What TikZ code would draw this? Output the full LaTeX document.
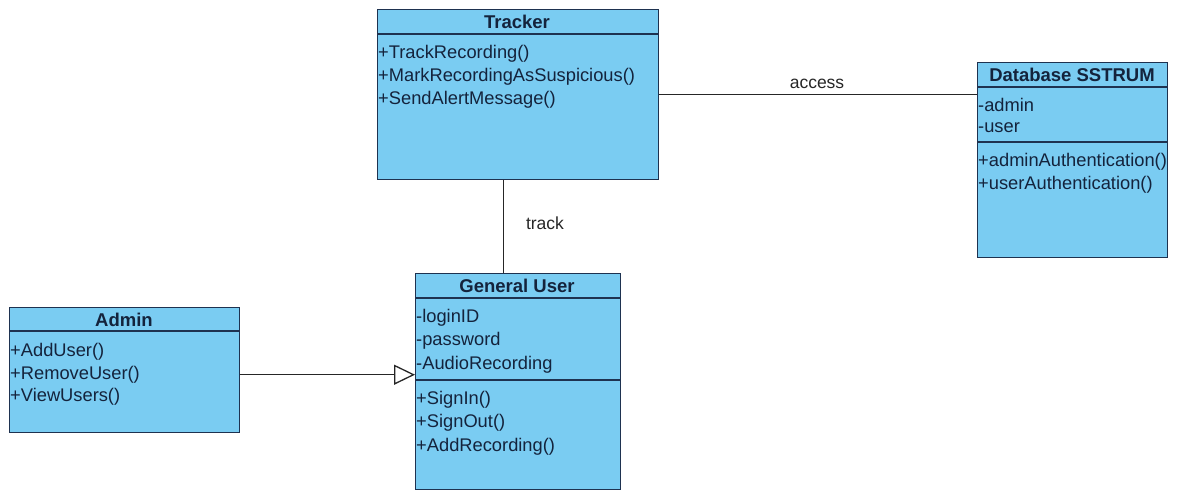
\documentclass[tikz,border=0pt]{standalone}
\usepackage{fontspec}
\setmainfont{Liberation Sans}
\usetikzlibrary{arrows.meta}
\definecolor{classfill}{RGB}{122,204,242}
\definecolor{classline}{RGB}{30,50,80}
\definecolor{classtext}{RGB}{20,35,60}
\tikzset{
  classbox/.style={draw=classline, fill=classfill, line width=1.4pt, rectangle, inner sep=0pt, anchor=north west},
  member/.style={anchor=west, inner sep=1pt, text=classtext, font=\fontsize{18.3}{22}\selectfont},
  header/.style={inner sep=0pt, text=classtext, font=\fontsize{18.5}{22}\selectfont\bfseries},
  sep/.style={draw=classline, line width=1.4pt},
  conn/.style={draw=black!85, line width=1.3pt},
  lbl/.style={inner sep=0pt, text=black!85, font=\fontsize{17.5}{20}\selectfont}
}
\begin{document}
\begin{tikzpicture}[x=1pt,y=-1pt]
\useasboundingbox (0,0) rectangle (1196,491);
% Tracker
\node[classbox, minimum width=281pt, minimum height=170pt] (tracker) at (377,9) {};
\draw[sep] (377,34) -- (658,34);
\node[header] (trh) at (517,22) {Tracker};
\node[member] (tr1) at (377,53.5) {+TrackRecording()};
\node[member] (tr2) at (377,76.5) {+MarkRecordingAsSuspicious()};
\node[member] (tr3) at (377,99.5) {+SendAlertMessage()};
% Database
\node[classbox, minimum width=190pt, minimum height=195pt] (db) at (977,62) {};
\draw[sep] (977,87) -- (1167,87);
\draw[sep] (977,142) -- (1167,142);
\node[header] (dbh) at (1072,75) {Database SSTRUM};
\node[member] (db1) at (977,104.5) {-admin};
\node[member] (db2) at (977,127.5) {-user};
\node[member] (db3) at (977,161.5) {+adminAuthentication()};
\node[member] (db4) at (977,184.5) {+userAuthentication()};
% Admin
\node[classbox, minimum width=230pt, minimum height=125pt] (admin) at (9,307) {};
\draw[sep] (9,331) -- (239,331);
\node[header] (adh) at (124,320) {Admin};
\node[member] (ad1) at (9,351.5) {+AddUser()};
\node[member] (ad2) at (9,374.5) {+RemoveUser()};
\node[member] (ad3) at (9,396.5) {+ViewUsers()};
% General User
\node[classbox, minimum width=205pt, minimum height=216pt] (gu) at (415,273) {};
\draw[sep] (415,298) -- (620,298);
\draw[sep] (415,380) -- (620,380);
\node[header] (guh) at (517,286) {General User};
\node[member] (gu1) at (415,317.5) {-loginID};
\node[member] (gu2) at (415,340.5) {-password};
\node[member] (gu3) at (415,364.5) {-AudioRecording};
\node[member] (gu4) at (415,399.5) {+SignIn()};
\node[member] (gu5) at (415,422.5) {+SignOut()};
\node[member] (gu6) at (415,446.5) {+AddRecording()};
% Connectors
\draw[conn] (tracker.east) -- (tracker.east -| db.west);
\node[lbl] (acc) at (817,84) {access};
\draw[conn] ([xshift=-14.5pt]tracker.south) -- ([xshift=-14.5pt]tracker.south |- gu.north);
\node[lbl] (trk) at (545,223) {track};
\draw[conn, -{Triangle[open, length=21pt, width=20pt]}] ([yshift=-4.5pt]admin.east) -- ([yshift=-4.5pt]admin.east -| gu.west);
\end{tikzpicture}
\end{document}
